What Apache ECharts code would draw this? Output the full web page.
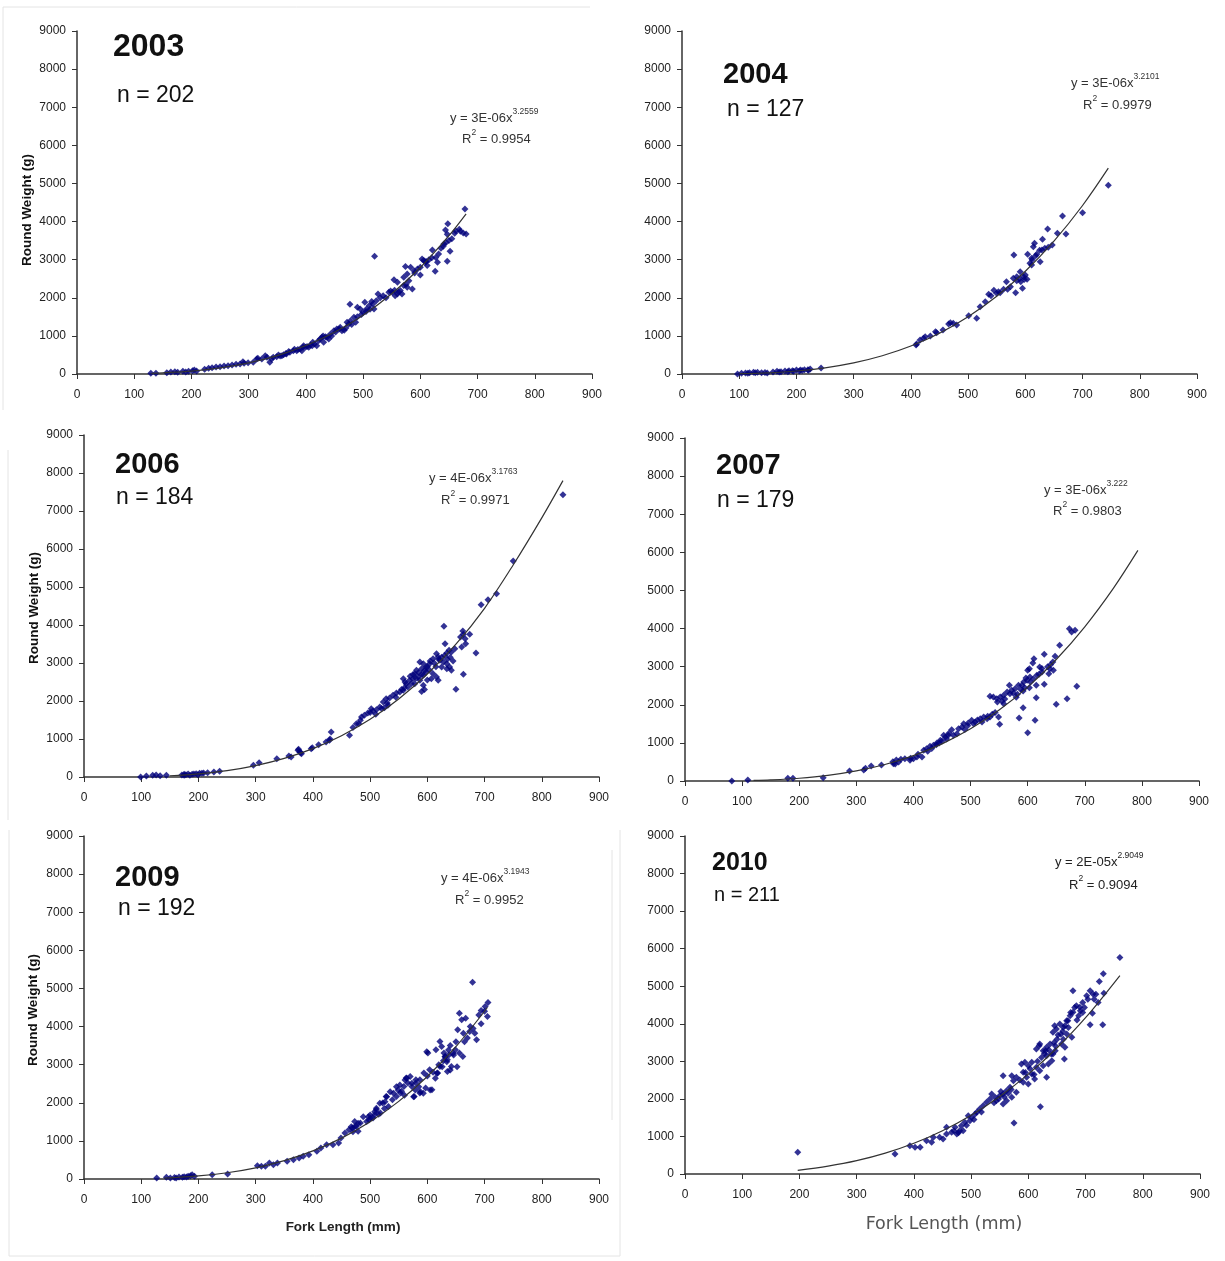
<!DOCTYPE html>
<html>
<head>
<meta charset="utf-8">
<script src="https://cdn.jsdelivr.net/npm/echarts@6/dist/echarts.min.js"></script>
<style>
html,body{margin:0;padding:0;background:#fff;}
#c{width:1225px;height:1261px;}
</style>
</head>
<body>
<div id="c"></div>
<script>
// ---------- DATA ----------
const xMin = 0, xMax = 900, xStep = 100;     // Fork Length (mm) ticks
const yMin = 0, yMax = 9000, yStep = 1000;   // Round Weight (g) ticks

const years = ['2003', '2004', '2006', '2007', '2009', '2010'];
const sampleSizes = ['n = 202', 'n = 127', 'n = 184', 'n = 179', 'n = 192', 'n = 211'];
const fitCoef = ['3E-06', '3E-06', '4E-06', '3E-06', '4E-06', '2E-05'];
const fitExp = ['3.2559', '3.2101', '3.1763', '3.222', '3.1943', '2.9049'];
const fitR2 = ['0.9954', '0.9979', '0.9971', '0.9803', '0.9952', '0.9094'];

const pts2003 = [[129,18],[138,18],[157,35],[164,53],[171,61],[176,44],[185,70],[190,53],[195,70],[202,88],[205,105],[209,79],[223,123],[230,149],[236,166],[243,184],[250,193],[257,210],[264,219],[271,237],[278,254],[285,263],[292,280],[299,298],[290,324],[316,412],
[308,306],[314,394],[323,394],[329,481],[332,437],[337,306],[340,394],[343,437],[349,455],[358,481],[361,507],[366,525],[372,569],[378,612],[384,612],[390,656],[393,612],[396,744],[399,700],[405,700],[411,744],[419,744],
[352,500],[355,470],[365,540],[370,590],[380,650],[386,640],[395,700],[402,720],[408,760],[412,830],
[425,918],[428,962],[431,831],[434,980],[437,962],[440,918],[443,1050],[449,1137],[454,1181],[460,1225],[463,1137],[472,1356],[475,1312],[478,1400],[484,1487],[487,1356],[477,1830],[490,1750],[495,1705],[503,1880],[506,1705],[511,1795],[517,1840],[519,1705],[523,1925],[526,2100],[520,3090],
[545,2145],[551,2145],[556,2055],[560,2100],[565,2190],[571,2320],[577,2275],[586,2230],[554,2470],[560,2405],[571,2540],[577,2625],[574,2820],[583,2800],[589,2710],[595,2755],[603,3020],[606,2975],[609,2930],[621,3255],[626,2695],[627,3060],[630,2930],[641,3410],[644,3780],[647,3670],[647,2960],[648,3940],[652,3220],[660,3690],[670,3745],[678,4330],[680,3675],
[415,790],[422,870],[430,1000],[445,1000],[452,1100],[458,1180],[467,1150],[470,1210],[480,1300],[490,1500],[497,1560],[500,1620],[505,1640],[512,1700],[515,1900],[530,2000],[535,2050],[540,2000],[548,2180],[555,2200],[562,2150],[568,2100],[575,2350],[580,2450],[590,2650],[600,2800],[610,2950],[615,3000],[620,3050],[632,3150],[636,3300],[640,3350],[645,3450],[650,3500],[655,3550],[662,3750],[668,3800],[675,3700],[600,2600],[612,2850]];

const pts2004 = [[97,0],[104,17],[111,26],[118,35],[125,44],[132,44],[139,35],[149,26],[159,52],[166,70],[173,61],[180,79],[187,88],[193,88],[200,105],[207,105],[214,114],[221,96],[224,131],[243,155],
[115,20],[128,30],[145,40],[170,50],[185,60],[195,70],[205,80],[210,95],[220,110],
[409,761],[410,787],[416,892],[422,936],[425,980],[434,997],[443,1111],[445,1085],[456,1155],[466,1312],[469,1347],[474,1329],[480,1286],[501,1531],[515,1461],[521,1767],[530,1898],[536,2090],[550,2117],[553,2160],[556,2134],[562,2222],[569,2222],[574,2292],[567,2423],[583,2134],[595,2248],[592,2423],[603,2484],[579,2510],[585,2554],[597,2554],[591,2685],[608,2904],[611,2860],[626,2947],[611,3035],[604,3140],[620,3140],[580,3123],[614,3341],[616,3429],[629,3254],[634,3297],[640,3324],[647,3385],[630,3534],[639,3805],[656,3691],[671,3674],[665,4146],[700,4233],[745,4950],
[585,2450],[590,2500],[598,2480],[600,2600],[612,3000],[618,3100],[625,3250],[540,2050],[545,2200]];

const pts2006 = [[99,0],[109,26],[120,44],[126,53],[133,35],[144,44],[171,53],[175,70],[182,79],[189,70],[196,88],[202,96],[209,105],[216,114],[227,131],[237,149],[175,44],[185,44],[199,61],[178,60],[192,80],[206,100],
[296,306],[306,376],[337,481],[358,551],[375,727],[379,639],[399,770],[362,526],[377,658],[374,702],[380,614],
[397,746],[423,921],[429,965],[432,1184],[464,1096],[476,1404],[483,1491],[485,1579],[490,1623],[496,1684],[502,1798],[505,1737],[511,1772],[517,1842],[525,1825],[531,1886],[523,1974],[528,2061],[534,2079],[540,2149],[546,2211],[552,2237],[558,2281],
[604,2982],[598,2895],[593,2982],[587,3026],[590,2851],[581,2807],[578,2719],[584,2632],[575,2588],[569,2544],[563,2456],[561,2500],[558,2588],[572,2456],[566,2368],[578,2456],[587,2544],[593,2675],[598,2763],[604,2807],[610,2719],[616,2632],[619,2544],[607,2588],[593,2412],
[616,3246],[619,3158],[610,3114],[622,3070],[628,3026],[634,2982],[639,2895],[642,2807],[634,2851],[625,2895],
[662,3842],[663,3754],[674,3754],[658,3684],[666,3640],[685,3263],[667,3509],[660,3421],[648,3377],[642,3289],[634,3263],[638,3333],[631,3509],[629,3965],[650,2307],[663,2702],
[694,4535],[706,4667],[721,4825],[750,5684],[837,7430],
[570,2650],[575,2700],[580,2600],[585,2750],[590,2700],[595,2800],[600,2900],[605,3050],[612,3000],[615,2900],[620,3100],[625,3150],[630,3200],[635,3100],[640,3150],[645,3050],[600,2550],[595,2300],[590,2250],[555,2300],[560,2350],[545,2100],[530,1950],[520,1800],[510,1650],[500,1700],[470,1300],[480,1400],[430,1000],[410,850]];

const pts2007 = [[82,0],[110,26],[180,70],[189,70],[242,88],[288,263],[313,289],[316,333],[326,394],[344,420],[364,508],[368,447],[378,569],[370,552],
[365,455],[374,499],[385,586],[394,542],[400,586],[406,630],[415,630],[418,805],[423,848],[429,910],[435,936],[441,997],[447,1067],[453,1198],[456,1155],[461,1198],[467,1347],[476,1242],[479,1373],[485,1417],[488,1504],[496,1522],[502,1592],[508,1548],[517,1636],[523,1679],[529,1636],[534,1679],[549,1679],[551,1487],[585,1653],[592,1924],[600,1268],[613,1592],[650,2012],[669,2160],[686,2484],
[616,2773],[610,2685],[604,2729],[599,2641],[593,2598],[590,2510],[584,2510],[578,2423],[572,2379],[568,2510],[564,2335],[558,2248],[552,2204],[546,2160],[540,2204],[534,2222],[547,2073],[558,2029],[569,2292],[582,2274],[592,2362],[603,2449],[615,2510],[629,2536],[615,2187],
[611,3210],[609,3096],[603,2948],[600,2904],[621,2991],[625,2860],[648,3271],[644,3122],[639,2948],[637,2816],[645,2904],[629,3324],[656,3560],[673,3997],[677,3910],[683,3953],
[440,950],[445,1000],[450,1050],[458,1100],[462,1250],[470,1200],[490,1350],[495,1450],[505,1500],[512,1600],[520,1550],[530,1700],[538,1750],[543,1800],[555,2100],[560,2150],[575,2300],[580,2200],[588,2400],[595,2450],[597,2700],[605,2600],[620,2800],[625,2950],[635,3000],[640,3050],[408,700],[425,780],[432,850],[395,600]];

const pts2009 = [[127,26],[144,44],[151,26],[161,26],[172,44],[179,52],[182,70],[186,87],[189,114],[193,70],[224,114],[251,131],[303,350],[310,332],[317,332],[324,419],[331,376],[338,419],[355,463],[366,507],[376,551],[383,594],[393,638],[407,725],[414,813],[424,900],[435,900],[445,944],[449,1075],[456,1206],[463,1294],[469,1337],[473,1512],[476,1381],[479,1250],[483,1468],[494,1512],[501,1599],[508,1686],[511,1817],[518,1730],[522,1992],[528,2167],[532,1905],[539,2080],[546,2167],[553,2254],[559,2429],[563,2648],[566,2517],[570,2691],[573,2429],[577,2167],[580,2517],[580,2604],[587,2604],[587,2254],[594,2779],[597,2386],[601,3303],[604,2866],[608,2342],[615,3390],[618,2779],[622,3609],[622,2953],[625,3478],[629,3303],[631,3216],[635,3128],[635,2822],[638,3259],[642,2953],[649,3390],[653,3915],[656,4352],[656,3303],[660,4177],[662,3216],[663,3827],[667,4221],[674,3871],[679,5164],[683,3827],[686,3653],[694,4421],[694,4072],[701,4526],[705,4264],[706,4631],
[599,3341],[561,2598],[564,2641],[552,2467],[546,2423],[549,2335],[541,2248],[535,2292],[529,2160],[526,2029],[517,1985],[511,1854],[508,1767],[500,1679],[497,1636],[488,1636],[479,1461],[473,1373],[467,1373],[470,1242],[579,2335],[576,2160],[588,2292],[593,2248],[605,2335],[585,2423],[573,2510],[617,2773],[614,2641],[626,2948],[631,3210],[634,3079],[637,3385],[646,3254],[652,2948],[640,2860],
[158,40],[166,50],[175,60],[600,2700],[610,2800],[620,3000],[628,3100],[640,3500],[645,3300],[650,3600],[665,3600],[670,3700],[675,4000],[680,3950],[690,4300],[700,4400],[498,1550],[505,1600],[515,1700],[525,1850],[555,2300],[560,2200]];

const pts2010 = [[197,576],[367,533],[393,754],[402,710],[411,710],[422,888],[431,843],[434,976],[445,976],[451,932],[457,1065],[457,1243],[466,1109],[472,1243],[475,1065],[480,1154],[483,1287],[486,1154],[489,1376],[495,1553],[498,1420],[501,1509],[507,1598],[510,1642],[515,1731],[521,1819],[527,1908],[533,1997],[536,2130],[542,2041],[544,1953],[550,2086],[556,2130],[556,1864],[562,2219],[562,1953],[568,2308],[571,2041],[574,2485],[579,2574],[579,2175],[556,2618],[571,2618],[575,1357],[588,2929],[591,2707],[591,2441],[594,2973],[597,2574],[600,2885],[600,2396],[606,2973],[606,2663],[611,2530],[614,2840],[614,3328],[619,3414],[620,3461],[620,2751],[621,1790],
[626,3284],[626,2885],[630,3281],[632,3373],[632,3151],[632,2574],[635,2929],[638,3461],[641,3018],[640,3192],[643,3195],[643,3772],[646,3950],[647,3414],[647,3281],[649,3861],[650,3591],[655,3994],[657,3724],[658,3461],[661,3905],[661,3591],[663,3059],[664,3373],[664,3946],[667,4083],[667,3728],[669,4079],[673,4216],[674,4301],[676,3639],[678,4877],[678,4305],[681,4433],[684,4482],[688,4212],[690,4438],[691,4344],[695,4566],[698,4433],[702,4744],[704,4655],[708,4877],[708,3973],[712,4283],[713,4793],[715,4655],[718,4788],[722,4566],[724,5125],[730,3976],[731,5329],[732,4814],[760,5763],
[540,1900],[548,2000],[552,2200],[558,2050],[565,2150],[570,2250],[585,2500],[595,2700],[603,2800],[610,2650],[616,3000],[623,3100],[628,3200],[636,3300],[645,3500],[652,3700],[660,3800],[670,3900],[685,4100],[695,4300],[470,1150],[478,1100],[492,1300],[505,1450],[518,1650]];

// trendline (power fit) points
const fit2003 = [[130,19],[150,31],[200,78],[250,162],[300,293],[350,483],[400,747],[450,1096],[500,1544],[550,2106],[600,2795],[650,3628],[680,4200]];
const fit2004 = [[100,9],[150,32],[200,79],[250,162],[300,291],[350,478],[400,733],[450,1070],[500,1501],[550,2039],[600,2696],[650,3485],[700,4421],[745,5400]];
const fit2006 = [[150,33],[200,83],[250,168],[300,300],[350,489],[400,747],[450,1087],[500,1519],[550,2055],[600,2710],[650,3494],[700,4440],[750,5580],[800,6820],[837,7800]];
const fit2007 = [[120,14],[150,28],[200,72],[250,147],[300,264],[350,434],[400,667],[450,975],[500,1369],[550,1861],[600,2463],[650,3188],[700,4047],[750,5055],[793,6050]];
const fit2009 = [[140,26],[150,32],[200,80],[250,164],[300,294],[350,481],[400,737],[450,1073],[500,1502],[550,2037],[600,2689],[650,3473],[705,4500]];
const fit2010 = [[197,95],[250,209],[300,355],[350,555],[400,819],[450,1153],[500,1566],[550,2066],[600,2659],[650,3356],[700,4162],[760,5285]];

const allPts = [pts2003, pts2004, pts2006, pts2007, pts2009, pts2010];
const allFits = [fit2003, fit2004, fit2006, fit2007, fit2009, fit2010];

// ---------- LAYOUT ----------
const FONT = "'Liberation Sans', Arial, sans-serif";
const panels = [
  {left:77,  top:31,  width:515, height:343, yName:[27,210],  title:[113,47,32],  n:[117,96,23],  eq:[450,116], r2:[462,137]},
  {left:682, top:31,  width:515, height:343, title:[723,75,29],  n:[727,110,23], eq:[1071,81], r2:[1083,103]},
  {left:84,  top:435, width:515, height:342, yName:[34,608],  title:[115,465,29], n:[116,498,23], eq:[429,476], r2:[441,498]},
  {left:685, top:438, width:514, height:343, title:[716,466,29], n:[717,501,23], eq:[1044,488], r2:[1053,509]},
  {left:84,  top:836, width:515, height:343, yName:[33,1010], xName:[343,1227,13.5,'bold',FONT,'#222'], title:[115,878,29], n:[118,909,23], eq:[441,876], r2:[455,898]},
  {left:685, top:836, width:515, height:338, xName:[944,1224,17.5,'normal',"'DejaVu Sans', sans-serif",'#555'], title:[712,863,25], n:[714,895,20], eq:[1055,860], r2:[1069,883]}
];

const grids = [], xAxes = [], yAxes = [], series = [], graphics = [];
const axisCommon = {
  axisLine:{show:true, onZero:false, lineStyle:{color:'#333', width:1.5}},
  axisTick:{show:true, inside:false, length:5, lineStyle:{color:'#333', width:1}},
  splitLine:{show:false},
};

panels.forEach((p, i) => {
  grids.push({left:p.left, top:p.top, width:p.width, height:p.height, containLabel:false});
  xAxes.push(Object.assign({type:'value', gridIndex:i, min:xMin, max:xMax, interval:xStep,
    axisLabel:{fontSize:12, color:'#222', fontFamily:FONT, margin:15, formatter:v=>String(v)}}, axisCommon));
  yAxes.push(Object.assign({type:'value', gridIndex:i, min:yMin, max:yMax, interval:yStep,
    axisLabel:{fontSize:12, color:'#222', fontFamily:FONT, margin:11, formatter:v=>String(v)}}, axisCommon));
  series.push({type:'scatter', xAxisIndex:i, yAxisIndex:i, data:allPts[i], symbol:'diamond', symbolSize:7,
    itemStyle:{color:'#00007a'}, silent:true, z:2});
  series.push({type:'line', xAxisIndex:i, yAxisIndex:i, data:allFits[i], smooth:0.35, showSymbol:false, symbol:'none',
    lineStyle:{color:'#333', width:1.2}, silent:true, z:3});

  graphics.push({type:'text', x:p.title[0], y:p.title[1], style:{text:years[i], fontSize:p.title[2], fontWeight:'bold', fontFamily:FONT, fill:'#111', align:'left', verticalAlign:'middle'}});
  graphics.push({type:'text', x:p.n[0], y:p.n[1], style:{text:sampleSizes[i], fontSize:p.n[2], fontFamily:FONT, fill:'#111', align:'left', verticalAlign:'middle'}});
  const eqFill = i === 5 ? '#222' : '#333';
  graphics.push({type:'text', x:p.eq[0], y:p.eq[1], style:{
    text:'{a|y = ' + fitCoef[i] + 'x}{s|' + fitExp[i] + '}', align:'left', verticalAlign:'middle',
    rich:{a:{fontSize:13, fontFamily:FONT, fill:eqFill, lineHeight:17, verticalAlign:'bottom'},
          s:{fontSize:8.5, fontFamily:FONT, fill:eqFill, lineHeight:17, verticalAlign:'top'}}}});
  graphics.push({type:'text', x:p.r2[0], y:p.r2[1], style:{
    text:'{a|R}{s|2}{a| = ' + fitR2[i] + '}', align:'left', verticalAlign:'middle',
    rich:{a:{fontSize:13, fontFamily:FONT, fill:eqFill, lineHeight:17, verticalAlign:'bottom'},
          s:{fontSize:8.5, fontFamily:FONT, fill:eqFill, lineHeight:17, verticalAlign:'top'}}}});
  if (p.yName) {
    graphics.push({type:'text', x:p.yName[0], y:p.yName[1], rotation:Math.PI/2, style:{text:'Round Weight (g)', fontSize:13.5, fontWeight:'bold', fontFamily:FONT, fill:'#111', align:'center', verticalAlign:'middle'}});
  }
  if (p.xName) {
    graphics.push({type:'text', x:p.xName[0], y:p.xName[1], style:{text:'Fork Length (mm)', fontSize:p.xName[2], fontWeight:p.xName[3], fontFamily:p.xName[4], fill:p.xName[5], align:'center', verticalAlign:'middle'}});
  }
});

// faint frames of the pasted panels
const frameStyle = {stroke:'#e4e4e4', lineWidth:1, fill:null};
graphics.push({type:'polyline', shape:{points:[[3,410],[3,7],[590,7]]}, style:frameStyle, silent:true});
graphics.push({type:'polyline', shape:{points:[[9,830],[9,1256],[620,1256],[620,830]]}, style:frameStyle, silent:true});
graphics.push({type:'polyline', shape:{points:[[612,850],[612,1120]]}, style:frameStyle, silent:true});
graphics.push({type:'polyline', shape:{points:[[8,450],[8,820]]}, style:frameStyle, silent:true});

const chart = echarts.init(document.getElementById('c'), null, {renderer:'canvas'});
chart.setOption({
  animation:false,
  backgroundColor:'#fff',
  grid:grids, xAxis:xAxes, yAxis:yAxes, series:series,
  graphic:{elements:graphics}
});
</script>
</body>
</html>
